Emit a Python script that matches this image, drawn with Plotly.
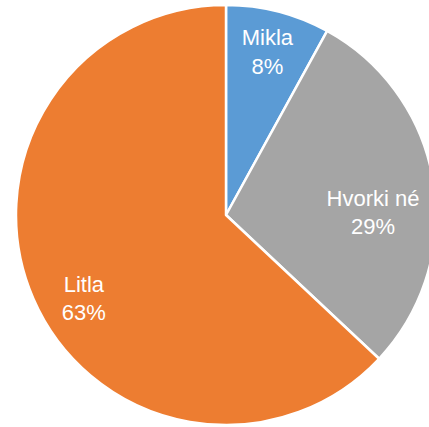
import plotly.graph_objects as go

labels = ["Mikla", "Hvorki né", "Litla"]
values = [8, 29, 63]
colors = ["#5B9BD5", "#A5A5A5", "#ED7D31"]

# label placement styling per slice (ring hole size, angular nudge in degrees)
label_holes = [0.45, 0.40, 0.57]
label_nudges = [0, 8, -7]

W, H = 452, 427
dom = dict(x=[0, 1], y=[2 / H, 422 / H])
font = dict(family="Liberation Sans, Arial, sans-serif", size=22, color="white")

fig = go.Figure()
fig.add_trace(go.Pie(
    labels=labels,
    values=values,
    sort=False,
    direction="clockwise",
    rotation=0,
    marker=dict(colors=colors, line=dict(color="white", width=2.5)),
    textinfo="none",
    showlegend=False,
    hoverinfo="label+percent",
    domain=dom,
))
# label layers: transparent rings so the labels sit in the outer part of each slice
for i in range(len(values)):
    fig.add_trace(go.Pie(
        labels=labels,
        values=values,
        sort=False,
        direction="clockwise",
        rotation=label_nudges[i],
        hole=label_holes[i],
        marker=dict(colors=["rgba(0,0,0,0)"] * len(values), line=dict(width=0)),
        texttemplate=["%{label}<br>%{percent:.0%}" if j == i else "" for j in range(len(values))],
        textposition="inside",
        insidetextorientation="horizontal",
        textfont=font,
        showlegend=False,
        hoverinfo="skip",
        domain=dom,
    ))

fig.update_layout(
    width=W,
    height=H,
    margin=dict(l=0, r=0, t=0, b=0),
    paper_bgcolor="white",
    plot_bgcolor="white",
    uniformtext=dict(minsize=22, mode="show"),
)

fig.write_html(
    "out.html",
    config={"displayModeBar": False},
    post_script="document.body.style.margin='0';document.body.style.overflow='hidden';",
)
